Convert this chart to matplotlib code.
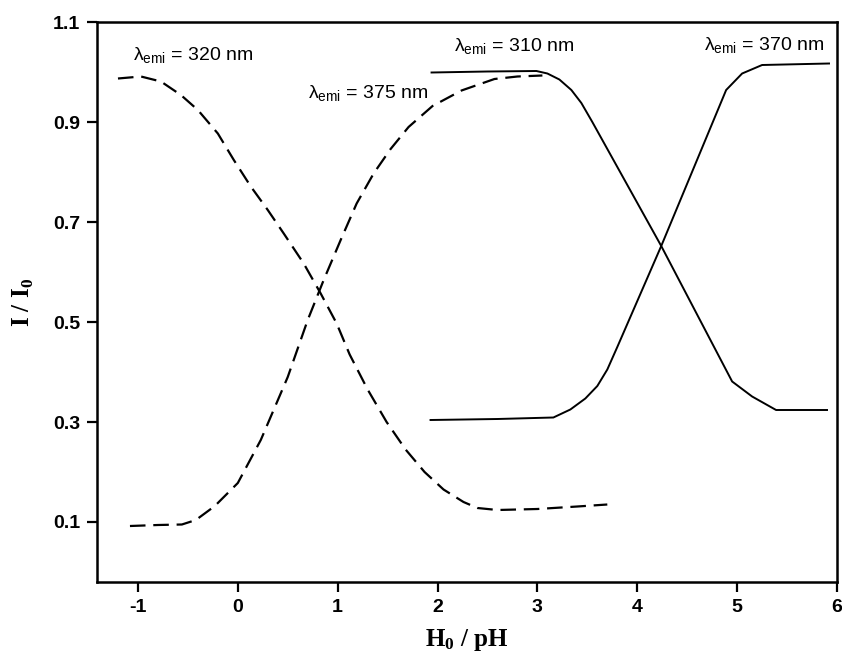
import matplotlib
matplotlib.use('Agg')
import matplotlib.pyplot as plt
import numpy as np

plt.rcParams['font.family'] = ['Liberation Sans', 'DejaVu Sans']
plt.rcParams['mathtext.fontset'] = 'custom'
plt.rcParams['mathtext.rm'] = 'Liberation Sans'
plt.rcParams['mathtext.it'] = 'Liberation Sans:italic'
plt.rcParams['mathtext.bf'] = 'Liberation Serif:bold'

# lambda_emi = 320 nm (dashed, falling)
x320 = [-1.20, -0.97, -0.77, -0.57, -0.40, -0.20, -0.04, 0.13, 0.30, 0.46, 0.66, 0.83,
        0.99, 1.12, 1.30, 1.49, 1.68, 1.87, 2.06, 2.26, 2.40, 2.60, 3.00, 3.40, 3.70]
y320 = [0.987, 0.991, 0.981, 0.954, 0.924, 0.877, 0.824, 0.771, 0.724, 0.677, 0.617, 0.557,
        0.497, 0.435, 0.365, 0.300, 0.245, 0.200, 0.165, 0.140, 0.128, 0.124, 0.126, 0.131, 0.135]

# lambda_emi = 375 nm (dashed, rising)
x375 = [-1.08, -0.80, -0.56, -0.42, -0.23, 0.00, 0.23, 0.50, 0.70, 0.86, 1.03, 1.19,
        1.36, 1.53, 1.71, 1.95, 2.24, 2.57, 2.80, 3.05]
y375 = [0.092, 0.094, 0.095, 0.104, 0.132, 0.178, 0.264, 0.390, 0.504, 0.584, 0.664, 0.737,
        0.797, 0.846, 0.890, 0.932, 0.963, 0.986, 0.991, 0.993]

# lambda_emi = 310 nm (solid, falling)
x310 = [1.94, 2.50, 2.99, 3.10, 3.22, 3.34, 3.44, 3.55, 4.24, 4.95, 5.15, 5.39, 5.90]
y310 = [0.999, 1.001, 1.002, 0.997, 0.985, 0.964, 0.938, 0.900, 0.652, 0.381, 0.351, 0.324, 0.324]

# lambda_emi = 370 nm (solid, rising)
x370 = [1.93, 2.60, 3.16, 3.33, 3.48, 3.60, 3.70, 3.80, 4.24, 4.89, 5.05, 5.25, 5.92]
y370 = [0.304, 0.306, 0.309, 0.325, 0.347, 0.372, 0.405, 0.450, 0.652, 0.964, 0.997, 1.014, 1.017]

labels = ['λ$_{\\mathrm{emi}}$ = 320 nm', 'λ$_{\\mathrm{emi}}$ = 375 nm',
          'λ$_{\\mathrm{emi}}$ = 310 nm', 'λ$_{\\mathrm{emi}}$ = 370 nm']
label_pos = [(-1.05, 1.034), (0.70, 0.958), (2.16, 1.052), (4.67, 1.054)]

xticks = [-1, 0, 1, 2, 3, 4, 5, 6]
yticks = [0.1, 0.3, 0.5, 0.7, 0.9, 1.1]

fig = plt.figure(figsize=(8.42, 6.68), dpi=100)
ax = fig.add_axes([97 / 842, 86 / 668, 740 / 842, 560 / 668])

dash = (0, (7, 3.5))
ax.plot(x320, y320, color='black', lw=1.6, linestyle=dash)
ax.plot(x375, y375, color='black', lw=1.6, linestyle=dash)
ax.plot(x310, y310, color='black', lw=1.4)
ax.plot(x370, y370, color='black', lw=1.4)

for txt, (tx, ty) in zip(labels, label_pos):
    ax.text(tx, ty, txt, fontsize=14, ha='left', va='center')

ax.set_xlim(-1.41, 6.0)
ax.set_ylim(-0.02, 1.1)
ax.set_xticks(xticks)
ax.set_yticks(yticks)
ax.set_xticklabels([str(t) for t in xticks])
ax.set_yticklabels(['%.1f' % t for t in yticks])
ax.tick_params(direction='out', length=7, width=1.6, labelsize=14, pad=5)
for lab in ax.get_xticklabels() + ax.get_yticklabels():
    lab.set_fontweight('bold')
for sp in ax.spines.values():
    sp.set_linewidth(1.8)

ax.set_xlabel('$\\mathbf{H_0}$ / pH', fontsize=18, fontweight='bold',
              family='Liberation Serif', labelpad=8)
ax.set_ylabel('I / I$_\\mathbf{0}$', fontsize=18, fontweight='bold',
              family='Liberation Serif', labelpad=12)

fig.savefig('out.png', dpi=100)
